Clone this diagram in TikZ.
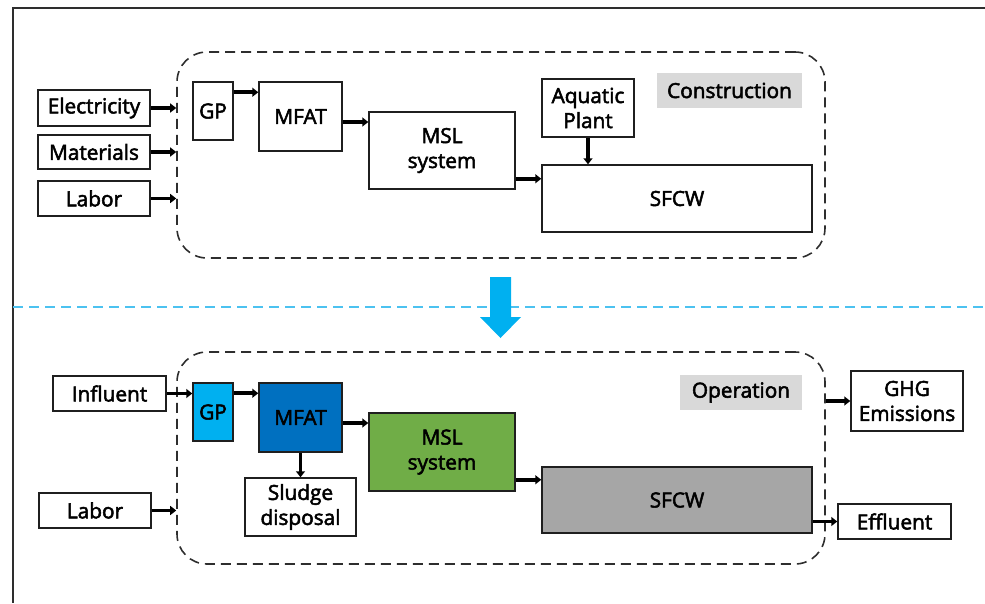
\documentclass[tikz,border=0pt]{standalone}
\usepackage{fontspec}
\setmainfont{Open Sans}[FakeBold=2.5]
\usepackage{xcolor}
\definecolor{gpBlue}{HTML}{00B0F0}
\definecolor{mfatBlue}{HTML}{0070C0}
\definecolor{mslGreen}{HTML}{70AD47}
\definecolor{sfcwGray}{HTML}{A6A6A6}
\definecolor{tagGray}{HTML}{D9D9D9}
\definecolor{lineCyan}{HTML}{4CC2F0}
\definecolor{frameDark}{HTML}{2E2E2E}
\usetikzlibrary{arrows.meta}

\tikzset{
  unit/.style={draw=black!88, line width=1.5pt, align=center, inner sep=0pt,
    font=\fontsize{20.8}{25}\selectfont},
  tag/.style={fill=tagGray, inner sep=0pt, font=\fontsize{20.8}{25}\selectfont},
  stage/.style={draw=frameDark, line width=1.6pt, dash pattern=on 10pt off 6pt,
    rounded corners=30pt, inner sep=0pt},
  flow/.style={line width=3.8pt, -{Triangle[length=6pt,width=9pt]}},
  sepline/.style={draw=lineCyan, line width=1.4pt, dash pattern=on 10pt off 6pt},
}

\begin{document}
\begin{tikzpicture}[x=1pt,y=-1pt]
  \useasboundingbox (0,0) rectangle (985,603);
  \draw[frameDark, line width=1.5pt] (985,8) -- (13,8) -- (13,603);

  % construction stage
  \node[stage, minimum width=648pt, minimum height=206pt] (build) at (501,155) {};
  \node[unit, minimum width=112pt, minimum height=36pt] (elec) at (94,108) {Electricity};
  \node[unit, minimum width=112pt, minimum height=34pt] (mat) at (94,152) {Materials};
  \node[unit, minimum width=112pt, minimum height=35pt] (labA) at (94,198.5) {Labor};
  \node[unit, minimum width=40pt, minimum height=58pt] (gpA) at (213,111) {GP};
  \node[unit, minimum width=83pt, minimum height=69pt] (mfatA) at (300.5,116.5) {MFAT};
  \node[unit, minimum width=146pt, minimum height=77pt] (mslA) at (442,150.5) {MSL\\system};
  \node[unit, minimum width=92pt, minimum height=58pt] (plant) at (588,108) {Aquatic\\Plant};
  \node[unit, minimum width=270pt, minimum height=67pt] (sfcwA) at (677,198.5) {SFCW};
  \node[tag, minimum width=145pt, minimum height=35pt] (buildTag) at (729.5,90.5) {Construction};

  \draw[flow] (elec.east) -- (elec.east -| build.west);
  \draw[flow] (mat.east) -- (mat.east -| build.west);
  \draw[flow] (labA.east) -- (labA.east -| build.west);
  \draw[flow] ([yshift=-11pt]gpA.north east) -- ([yshift=-11pt]gpA.north east -| mfatA.west);
  \draw[flow] ([yshift=-5.5pt]mfatA.east) -- ([yshift=-5.5pt]mfatA.east -| mslA.west);
  \draw[flow] ([yshift=11pt]mslA.south east) -- ([yshift=11pt]mslA.south east -| sfcwA.west);
  \draw[flow] (plant.south) -- (plant.south |- sfcwA.north);

  % stage change
  \draw[sepline] (13,307) -- (985,307);
  \coordinate (turn) at (500.5,277);
  \fill[gpBlue] (turn) ++(-10.5,0) -- ++(21,0) -- ++(0,40) -- ++(10,0)
    -- ++(-20.5,21) -- ++(-20.5,-21) -- ++(10,0) -- cycle;

  % operation stage
  \node[stage, minimum width=648pt, minimum height=212pt] (run) at (501,458) {};
  \node[unit, minimum width=113pt, minimum height=35pt] (infl) at (109.5,393.5) {Influent};
  \node[unit, minimum width=112pt, minimum height=35pt] (labB) at (95,510.5) {Labor};
  \node[unit, fill=gpBlue, minimum width=40pt, minimum height=58pt] (gpB) at (213,412) {GP};
  \node[unit, fill=mfatBlue, minimum width=83pt, minimum height=69pt] (mfatB) at (300.5,417.5) {MFAT};
  \node[unit, minimum width=111pt, minimum height=58pt] (sludge) at (300.5,507) {Sludge\\disposal};
  \node[unit, fill=mslGreen, minimum width=146pt, minimum height=78pt] (mslB) at (442,452) {MSL\\system};
  \node[unit, fill=sfcwGray, minimum width=270pt, minimum height=66pt] (sfcwB) at (677,500) {SFCW};
  \node[tag, minimum width=122pt, minimum height=35pt] (runTag) at (741,392.5) {Operation};
  \node[unit, minimum width=112pt, minimum height=60pt] (ghg) at (907,401) {GHG\\Emissions};
  \node[unit, minimum width=113pt, minimum height=35pt] (effl) at (894.5,521.5) {Effluent};

  \draw[flow] (infl.east) -- (infl.east -| gpB.west);
  \draw[flow] (labB.east) -- (labB.east -| run.west);
  \draw[flow] ([yshift=-11pt]gpB.north east) -- ([yshift=-11pt]gpB.north east -| mfatB.west);
  \draw[flow] ([yshift=-5.5pt]mfatB.east) -- ([yshift=-5.5pt]mfatB.east -| mslB.west);
  \draw[flow] (mfatB.south) -- (sludge.north);
  \draw[flow] ([yshift=12pt]mslB.south east) -- ([yshift=12pt]mslB.south east -| sfcwB.west);
  \draw[flow] (ghg.west -| run.east) -- (ghg.west);
  \draw[flow] (effl.west -| sfcwB.east) -- (effl.west);
\end{tikzpicture}
\end{document}
